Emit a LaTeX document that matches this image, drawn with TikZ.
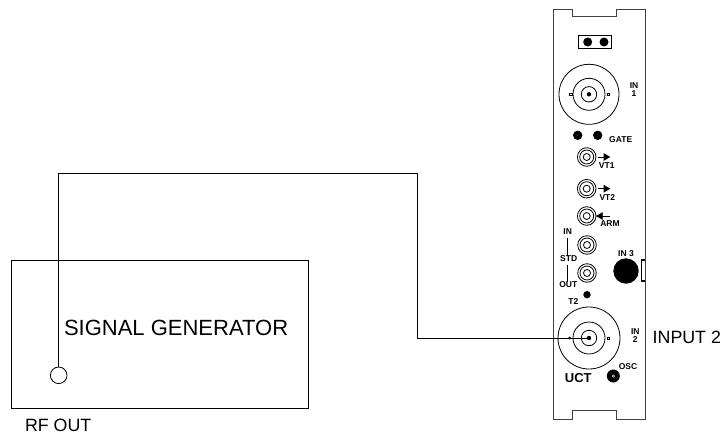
\documentclass[tikz,border=0pt]{standalone}
\usepackage{fontspec}
\setmainfont{Liberation Sans}
\usetikzlibrary{positioning,arrows}

\begin{document}
\begin{tikzpicture}[x=1pt, y=-1pt,
    every node/.style={inner sep=0pt, outer sep=0pt},
    ring/.style={draw, circle, line width=0.8pt},
    blob/.style={circle, fill=black},
    lug/.style={draw, rectangle, line width=0.5pt, minimum width=2.6pt, minimum height=2.4pt},
    tag/.style={font=\bfseries\fontsize{8.5}{8.5}\selectfont, align=center},
    biglabel/.style={font=\fontsize{17.8}{17.8}\selectfont}]
    \useasboundingbox (0,0) rectangle (720,434);

    % Front panel of the module
    \draw[line width=0.9pt, draw=black!75] (553.7,9) -- (572.7,9) -- (572.7,16.7) -- (616,16.7) -- (616,9.5) -- (645,9.5)
        -- (645,419) -- (616.7,419) -- (616.7,410.7) -- (572.7,410.7) -- (572.7,419) -- (553.7,419) -- cycle;

    % Jumper at the top
    \node[draw, rectangle, line width=0.8pt, minimum width=33.4pt, minimum height=13.7pt] (jumper) at (595,41.8) {};
    \node[blob, minimum size=9pt] (jumpera) at (587.7,42) {};
    \node[blob, minimum size=9pt] (jumperb) at (604,42) {};

    % Input 1 connector
    \node[ring, minimum size=60pt] (inonea) at (589,94.3) {};
    \node[ring, minimum size=32pt] (inoneb) at (589,94.3) {};
    \node[ring, minimum size=15.4pt] (inonec) at (589,94.3) {};
    \node[blob, minimum size=4.4pt] (inoned) at (589,94.3) {};
    \node[lug] (inonel) at (570.6,94.3) {};
    \node[lug] (inoner) at (608.4,94.3) {};
    \node[tag] (inonetext) at (634,90) {IN\\[-0.5pt]1};

    % Gate
    \node[blob, minimum size=9.4pt] (gatea) at (577.7,135.3) {};
    \node[blob, minimum size=9.4pt] (gateb) at (597.7,135.3) {};
    \node[tag] (gatetext) at (620.7,140) {GATE};

    % Small connectors
    \node[ring, minimum size=18.6pt] (vtone) at (586.7,157) {};
    \node[ring, minimum size=14pt] at (586.7,157) {};
    \node[ring, minimum size=7pt] at (586.7,157) {};
    \node[ring, minimum size=18.6pt] (vttwo) at (586.7,188.7) {};
    \node[ring, minimum size=14pt] at (586.7,188.7) {};
    \node[ring, minimum size=7pt] at (586.7,188.7) {};
    \node[ring, minimum size=18.6pt] (arm) at (586.7,216) {};
    \node[ring, minimum size=14pt] at (586.7,216) {};
    \node[ring, minimum size=7pt] at (586.7,216) {};
    \node[ring, minimum size=18.6pt] (stdin) at (587,245) {};
    \node[ring, minimum size=14pt] at (587,245) {};
    \node[ring, minimum size=7pt] at (587,245) {};
    \node[ring, minimum size=18.6pt] (stdout) at (587,273) {};
    \node[ring, minimum size=14pt] at (587,273) {};
    \node[ring, minimum size=7pt] at (587,273) {};

    % Signal arrows and their labels
    \coordinate (vtonetip) at (610.3,157);
    \coordinate (vttwotip) at (610.3,188.7);
    \coordinate (armtail) at (610.3,216);
    \draw[-triangle 60, line width=0.8pt] (vtone.east) ++(1.5,0) -- (vtonetip);
    \draw[-triangle 60, line width=0.8pt] (vttwo.east) ++(1.5,0) -- (vttwotip);
    \draw[-triangle 60, line width=0.8pt] (armtail) -- (arm.east);
    \node[tag] (vtonetext) at (606.7,165.7) {VT1};
    \node[tag] (vttwotext) at (607.3,197.7) {VT2};
    \node[tag] (armtext) at (610,223.7) {ARM};

    % Standard in and out
    \node[tag] (intext) at (567.7,231.7) {IN};
    \node[tag] (stdtext) at (568.7,258.7) {STD};
    \node[tag] (outtext) at (568.3,284.7) {OUT};
    \draw[line width=0.8pt] (intext.south) ++(0,3.5) -- (stdtext.north -| intext.south);
    \draw[line width=0.8pt] (stdtext.south -| intext.south) ++(0,3) -- (outtext.north -| intext.south);

    % Input 3
    \node[tag] (inthreetext) at (626,253.7) {IN 3};
    \node[blob, minimum size=25.4pt] (inthree) at (626,271) {};
    \draw[line width=1.2pt] (645,260) -- (641.8,260) -- (641.8,281) -- (645,281);

    % Input 2 connector
    \node[blob, minimum size=7.4pt] (tzwodot) at (587,294.7) {};
    \node[tag] (tzwotext) at (573.3,302) {T2};
    \node[ring, minimum size=62pt] (intwo) at (589,338) {};
    \node[ring, minimum size=32pt] at (589,338) {};
    \node[ring, minimum size=15.4pt] at (589,338) {};
    \node[blob, minimum size=4.4pt] (intwodot) at (589,338) {};
    \node[blob, minimum size=3pt] (intwol) at (569.5,338) {};
    \node[lug] (intwor) at (608.4,338) {};
    \node[tag] (intwotext) at (635.3,336) {IN\\[-0.5pt]2};
    \node[biglabel, anchor=west] (inputtext) at (652.7,337) {INPUT 2};

    % Bottom of the panel
    \node[font=\bfseries\fontsize{13}{13}\selectfont] (ucttext) at (578.3,377.7) {UCT};
    \node[tag] (osctext) at (628,366.3) {OSC};
    \node[blob, minimum size=13pt] (osc) at (613.3,376) {};
    \node[draw=white, circle, line width=0.4pt, minimum size=2.4pt] (oscmark) at (613.3,376) {};

    % Generator and cable
    \node[draw, rectangle, line width=0.8pt, minimum width=297.5pt, minimum height=148pt] (generator) at (159.75,334.5) {};
    \node[font=\fontsize{22}{22}\selectfont, anchor=west] (generatortext) at (64,328) {SIGNAL GENERATOR};
    \node[ring, minimum size=16.6pt] (rfout) at (58.7,375.3) {};
    \node[biglabel, anchor=west] (rfouttext) at (25,425) {RF OUT};
    \coordinate (cablebend) at (417.7,173.5);
    \draw[line width=0.8pt] (rfout.north) |- (cablebend) |- (intwodot.center);
\end{tikzpicture}
\end{document}
